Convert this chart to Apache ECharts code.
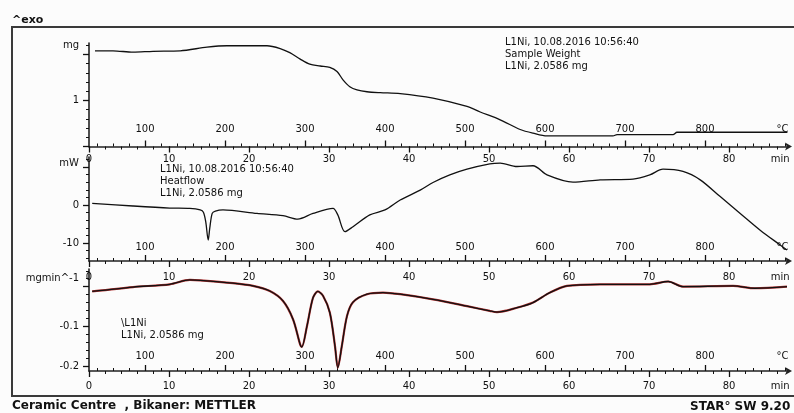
<!DOCTYPE html>
<html><head><meta charset="utf-8">
<script src="https://cdn.jsdelivr.net/npm/echarts@6/dist/echarts.min.js"></script>
<style>html,body{margin:0;padding:0;background:#fcfcfc}#c{width:794px;height:413px}</style>
</head><body><div id="c"></div>
<script>
// ---------- data ----------
// TGA: sample weight (mg) vs time (min)
const tgaTime = [0.75,3,5.5,8,11.4,14.75,17.25,22.25,23.9,25.1,26.4,27.6,28.9,30.1,31,31.75,32.6,33.5,34.75,36.4,38.9,43,47.25,48.9,51.4,53.9,55.5,57.25,65.5,66,73,73.5,87.3];
const tgaMass = [2.08,2.08,2.05,2.07,2.08,2.16,2.19,2.19,2.13,2.04,1.90,1.79,1.75,1.72,1.63,1.45,1.30,1.23,1.19,1.17,1.15,1.05,0.87,0.75,0.58,0.37,0.29,0.23,0.23,0.26,0.26,0.31,0.31];
// DSC: heat flow (mW) vs time (min)
const dscTime = [0.4,5.5,10.1,12.6,13.9,14.3,14.6,14.9,15.1,15.4,15.8,16.75,21,24.25,26.1,28,30.5,31.1,32,33,35.1,37,38.9,41.4,43,45.1,47.25,50.1,51.4,53.5,55.5,57.25,60.5,63.9,68,70.1,71.75,74.25,76.4,78.9,81.4,83.9,86.4,87.25];
const dscHeat = [0.45,-0.26,-0.8,-0.9,-1.3,-1.9,-4.5,-9.2,-6.0,-2.2,-1.6,-1.3,-2.2,-2.8,-3.7,-2.2,-0.9,-2.6,-7.0,-5.7,-2.6,-1.3,1.3,3.9,5.9,7.9,9.4,10.8,11.0,10.1,10.3,7.9,6.0,6.6,6.8,7.9,9.4,8.8,6.6,2.2,-2.2,-6.6,-10.5,-11.8];
// DTG: mg min^-1 vs time (min)
const dtgTime = [0.4,5.5,10.1,12.6,13.9,18,20.5,22.6,24.25,25.5,26.4,26.6,27.25,28,28.6,29.25,30.1,30.75,31.1,31.6,32.25,33,34.75,36.75,38.9,43,47.25,50.1,51,53.5,55.5,57.6,59.75,63.9,70.1,72.4,74.25,80.5,83.25,87.25];
const dtgRate = [-0.012,-0.001,0.006,0.017,0.016,0.009,0.002,-0.011,-0.036,-0.082,-0.146,-0.152,-0.099,-0.028,-0.012,-0.023,-0.065,-0.150,-0.204,-0.150,-0.074,-0.039,-0.019,-0.015,-0.019,-0.032,-0.049,-0.061,-0.064,-0.053,-0.040,-0.015,0.002,0.006,0.006,0.013,0.000,0.002,-0.004,0.000];
// tick labels
const minLabels = [0,10,20,30,40,50,60,70,80];
const tempLabels = [100,200,300,400,500,600,700,800];
const tgaLabels = [1];
const dscLabels = [0,-10];
const dtgLabels = [-0.1,-0.2];

// ---------- layout ----------
const XMAX = 87.375;            // time axis extent (min)
const TMIN = 30, TMAX = 30 + 10 * XMAX; // temperature axis (°C), 10 K/min
const MIN_UNIT_AT = 86.4, DEG_UNIT_AT = 897;
const FONT = 'DejaVu Sans';
const INK = '#111';

function steps(a, b, s) { const r = []; for (let v = a; v <= b + 1e-9; v += s) r.push(+v.toFixed(6)); return r; }
const minMinor = steps(0, 86, 2);
const tempMinor = steps(40, 900, 20);

const panels = [
  { top: 43, bottom: 146.5, yMin: 0, yMax: 2.25, yMinor: steps(0, 2.2, 0.2), yMajor: [0, 1, 2], yLabels: tgaLabels, unitAt: 2.2, unit: 'mg', minMargin: 8, tempMargin: 12, time: tgaTime, val: tgaMass, red: false },
  { top: 157, bottom: 261, yMin: -14.7, yMax: 12.6, yMinor: steps(-14, 12, 2), yMajor: [-10, 0, 10], yLabels: dscLabels, unitAt: 11, unit: 'mW', minMargin: 11, tempMargin: 9, time: dscTime, val: dscHeat, red: false },
  { top: 269, bottom: 371, yMin: -0.2124, yMax: 0.0445, yMinor: steps(-0.2, 0.04, 0.02), yMajor: [-0.2, -0.1, 0], yLabels: dtgLabels, unitAt: 0.0216, unit: 'mgmin^-1', minMargin: 10, tempMargin: 10, time: dtgTime, val: dtgRate, red: true }
];

const grid = [], xAxis = [], yAxis = [], series = [];
const txt = { color: INK, fontFamily: FONT, fontSize: 10 };
panels.forEach((p, g) => {
  grid.push({ left: 89, width: 699, top: p.top, height: p.bottom - p.top });
  // time axis: labels + minor ticks
  xAxis.push({ type: 'value', gridIndex: g, min: 0, max: XMAX, position: 'bottom',
    axisLine: { show: false, onZero: false }, splitLine: { show: false },
    axisTick: { show: true, customValues: minMinor, length: 3, lineStyle: { color: INK, width: 1 } },
    axisLabel: Object.assign({ customValues: minLabels.concat([MIN_UNIT_AT]), margin: p.minMargin,
      formatter: v => (Math.abs(v - MIN_UNIT_AT) < 1e-6 ? 'min' : String(v)) }, txt) });
  // time axis: major ticks
  xAxis.push({ type: 'value', gridIndex: g, min: 0, max: XMAX, position: 'bottom',
    axisLine: { show: false, onZero: false }, splitLine: { show: false }, axisLabel: { show: false },
    axisTick: { show: true, customValues: minLabels, length: 6, lineStyle: { color: INK, width: 1.3 } } });
  // temperature axis: line, labels (inside), minor ticks
  xAxis.push({ type: 'value', gridIndex: g, min: TMIN, max: TMAX, position: 'bottom',
    axisLine: { show: true, onZero: false, symbol: ['none', 'arrow'], symbolSize: [6, 7], symbolOffset: [0, 4], lineStyle: { color: '#222', width: 1.6 } },
    splitLine: { show: false },
    axisTick: { show: true, inside: true, customValues: tempMinor, length: 3, lineStyle: { color: INK, width: 1 } },
    axisLabel: Object.assign({ inside: true, customValues: tempLabels.concat([DEG_UNIT_AT]), margin: p.tempMargin,
      formatter: v => (Math.abs(v - DEG_UNIT_AT) < 1e-6 ? '°C' : String(v)) }, txt) });
  // temperature axis: major ticks
  xAxis.push({ type: 'value', gridIndex: g, min: TMIN, max: TMAX, position: 'bottom',
    axisLine: { show: false, onZero: false }, splitLine: { show: false }, axisLabel: { show: false },
    axisTick: { show: true, inside: true, customValues: tempLabels, length: 6, lineStyle: { color: INK, width: 1.3 } } });
  // y axis: line, labels, minor ticks
  yAxis.push({ type: 'value', gridIndex: g, min: p.yMin, max: p.yMax, position: 'left',
    axisLine: { show: true, onZero: false, lineStyle: { color: '#222', width: 1.6 } }, splitLine: { show: false },
    axisTick: { show: true, customValues: p.yMinor, length: 3, lineStyle: { color: INK, width: 1 } },
    axisLabel: Object.assign({ customValues: p.yLabels.concat([p.unitAt]), margin: 10,
      formatter: v => (Math.abs(v - p.unitAt) < 1e-9 ? p.unit : String(v)) }, txt) });
  // y axis: major ticks
  yAxis.push({ type: 'value', gridIndex: g, min: p.yMin, max: p.yMax, position: 'left',
    axisLine: { show: false, onZero: false }, splitLine: { show: false }, axisLabel: { show: false },
    axisTick: { show: true, customValues: p.yMajor, length: 6, lineStyle: { color: INK, width: 1.3 } } });

  const data = p.time.map((t, i) => [t, p.val[i]]);
  if (p.red) {
    series.push({ type: 'line', xAxisIndex: 4 * g, yAxisIndex: 2 * g, data, showSymbol: false, smooth: 0.3,
      lineStyle: { color: '#b03030', width: 2.2 }, silent: true, z: 2 });
  }
  series.push({ type: 'line', xAxisIndex: 4 * g, yAxisIndex: 2 * g, data, showSymbol: false, smooth: 0.3,
    lineStyle: { color: INK, width: 1.3 }, silent: true, z: 3 });
});

function label(text, x, y, opt) {
  return { type: 'text', x, y, silent: true, z: 10,
    style: Object.assign({ text, fill: INK, font: '10px "' + FONT + '"', verticalAlign: 'middle' }, opt || {}) };
}
const graphic = [
  { type: 'rect', silent: true, z: 0, shape: { x: 12, y: 27, width: 800, height: 369 }, style: { fill: 'none', stroke: '#3a3a3a', lineWidth: 2 } },
  label('^exo', 12, 20, { font: 'bold 11px "' + FONT + '"' }),
  label('L1Ni, 10.08.2016 10:56:40', 505, 42),
  label('Sample Weight', 505, 54),
  label('L1Ni, 2.0586 mg', 505, 66),
  label('L1Ni, 10.08.2016 10:56:40', 160, 169),
  label('Heatflow', 160, 181),
  label('L1Ni, 2.0586 mg', 160, 193),
  label('\\L1Ni', 121, 323),
  label('L1Ni, 2.0586 mg', 121, 335),
  label('Ceramic Centre  , Bikaner: METTLER', 12, 406, { font: 'bold 12px "' + FONT + '"' }),
  label('STAR\u00b0 SW 9.20', 690, 407, { font: 'bold 12px "' + FONT + '"' })
];

const chart = echarts.init(document.getElementById('c'), null, { renderer: 'canvas' });
chart.setOption({ backgroundColor: '#fcfcfc', animation: false, grid, xAxis, yAxis, series, graphic });
</script>
</body></html>
